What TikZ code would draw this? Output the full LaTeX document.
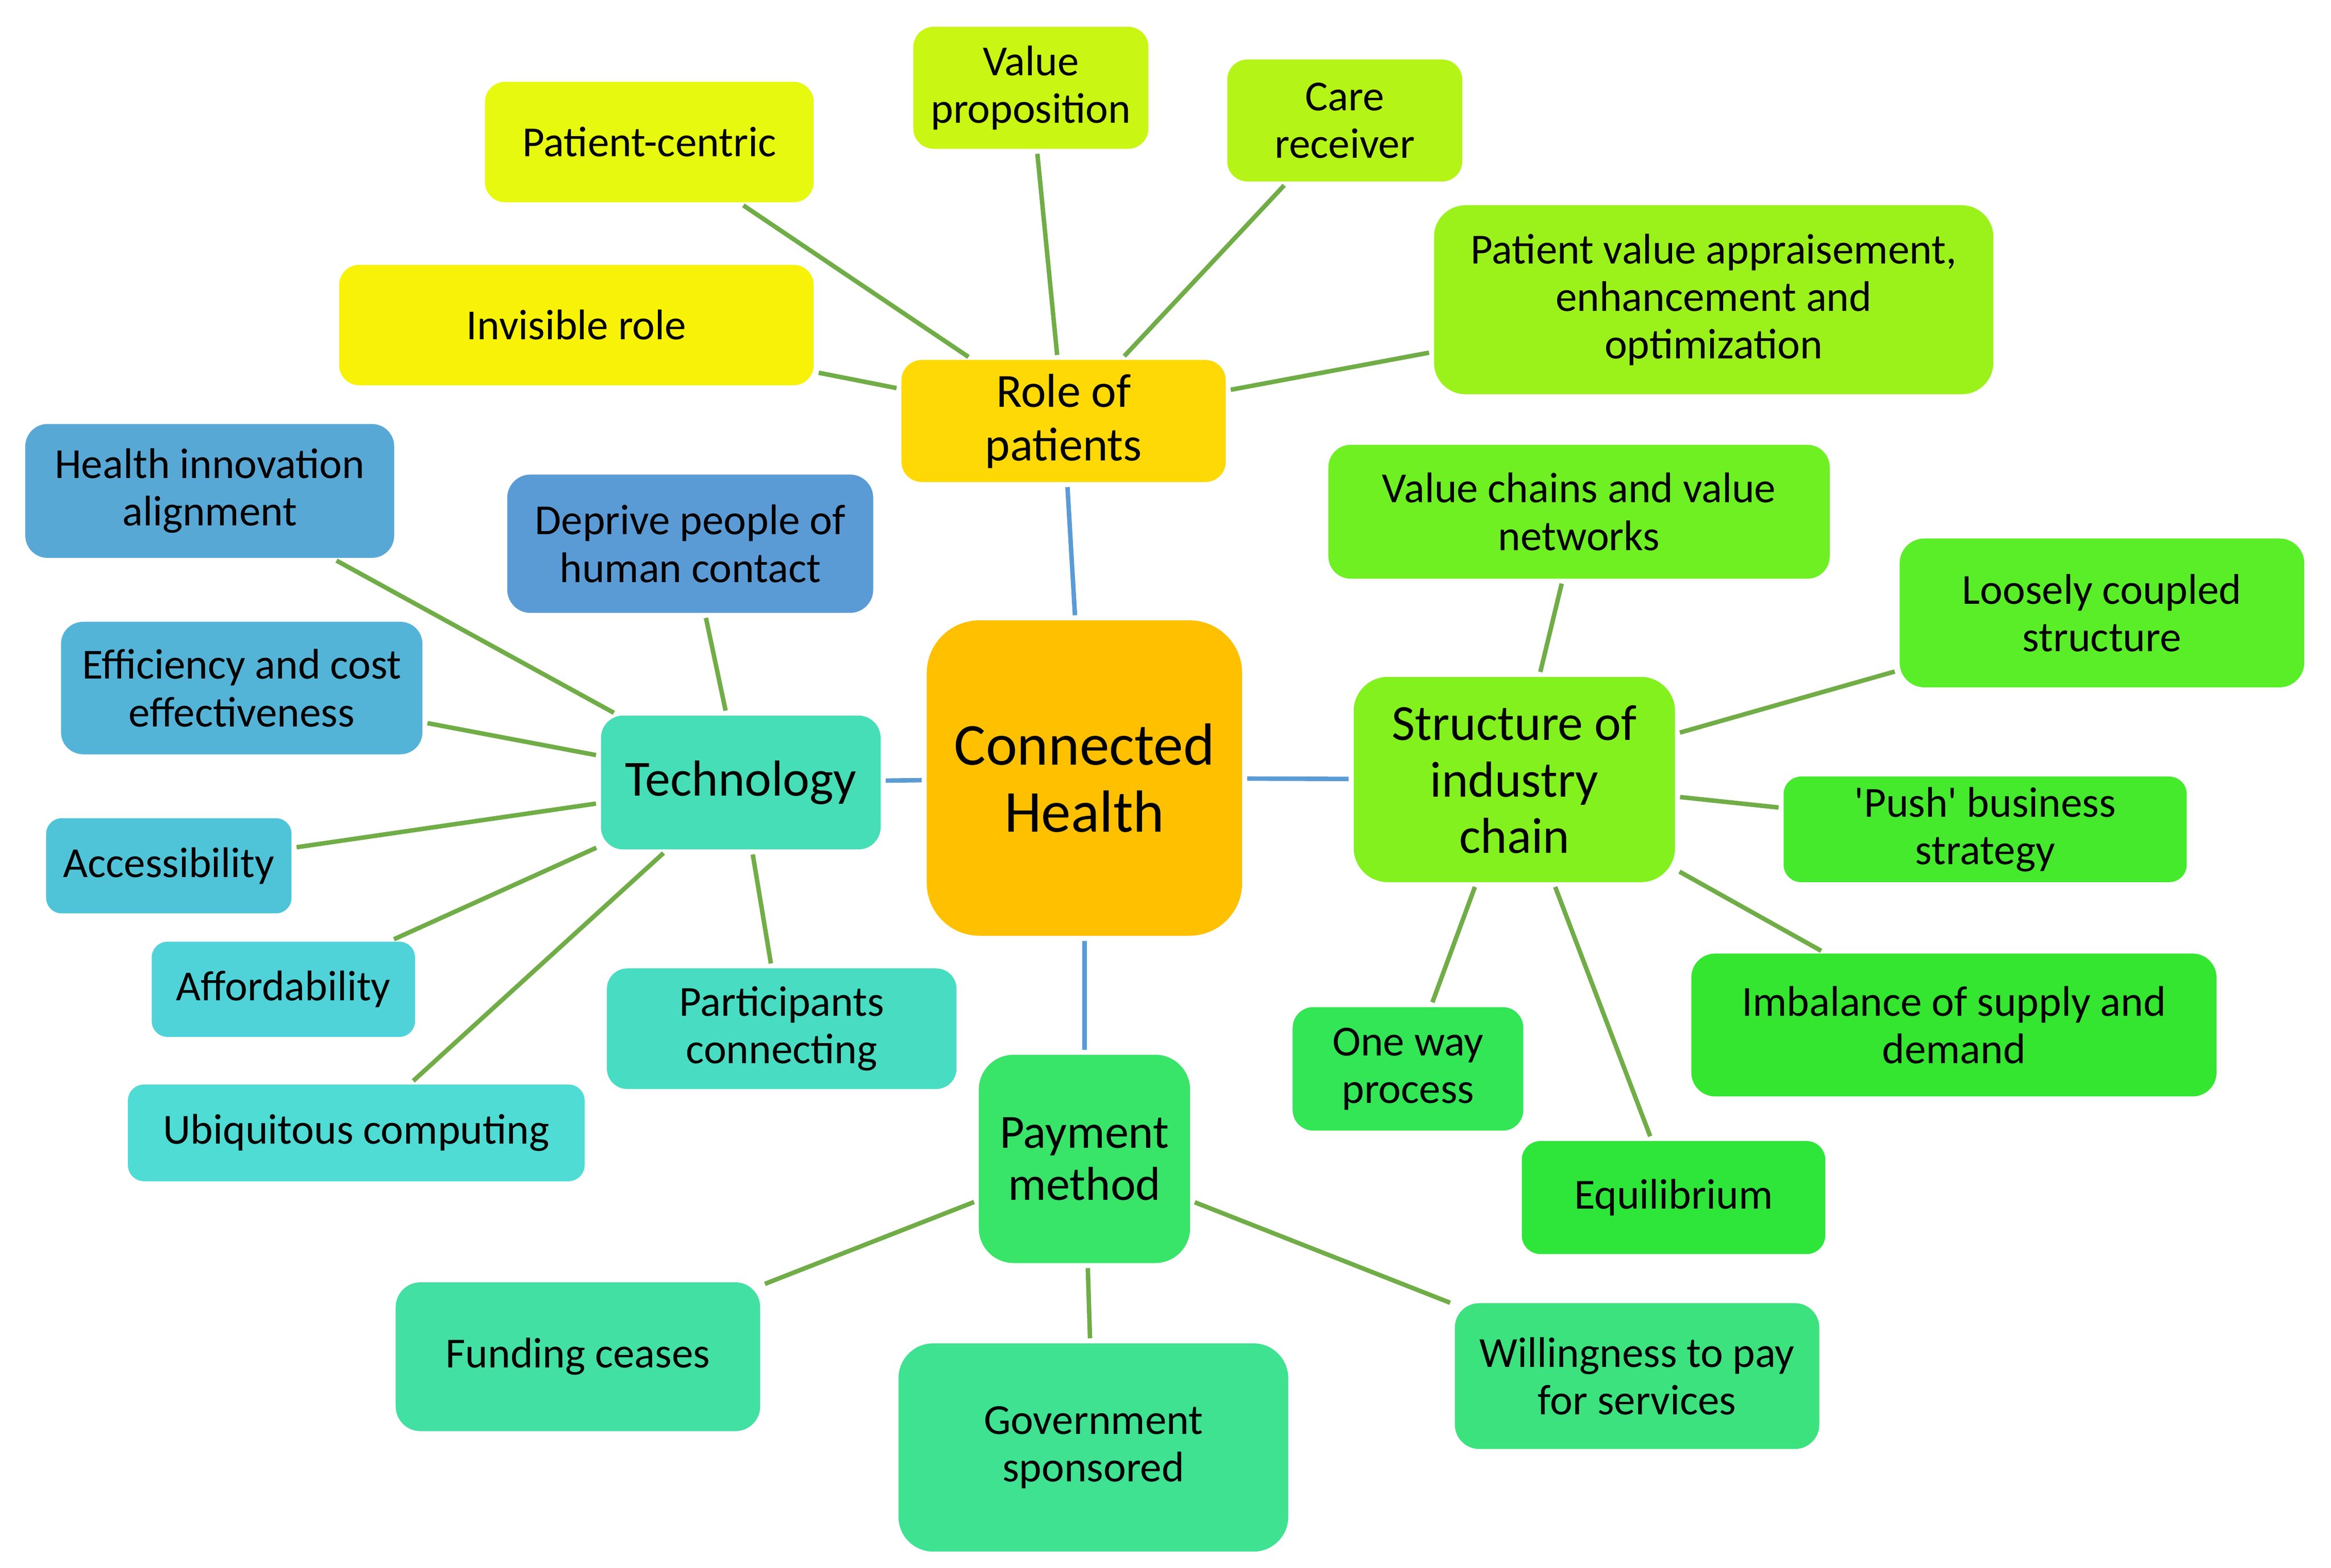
\documentclass[tikz,border=0pt]{standalone}
\usepackage{fontspec}
\setmainfont{Carlito}
\begin{document}
\begin{tikzpicture}[x=0.5pt,y=-0.5pt,
  bx/.style={draw=none, align=center, inner sep=1pt, font=\fontsize{14.4pt}{16pt}\selectfont, text=black},
  bxm/.style={bx, font=\fontsize{16pt}{18pt}\selectfont},
  bxl/.style={bx, font=\fontsize{17pt}{19pt}\selectfont},
  bxc/.style={bx, font=\fontsize{20pt}{22.5pt}\selectfont},
  gl/.style={draw=lineg, line width=1.5pt, shorten >=1.5pt, shorten <=1.5pt},
  bl/.style={draw=lineb, line width=1.5pt, shorten >=1.5pt, shorten <=1.5pt}]
\definecolor{lineg}{HTML}{70AD47}
\definecolor{lineb}{HTML}{5B9BD5}
\definecolor{cpc}{HTML}{E6F90F}
\definecolor{cir}{HTML}{F8F208}
\definecolor{cvp}{HTML}{C9F613}
\definecolor{ccr}{HTML}{B4F517}
\definecolor{cpv}{HTML}{9BF21B}
\definecolor{crp}{HTML}{FED906}
\definecolor{chi}{HTML}{58A8D6}
\definecolor{cdp}{HTML}{5B9BD5}
\definecolor{cef}{HTML}{54B4D8}
\definecolor{cte}{HTML}{46DEB6}
\definecolor{cch}{HTML}{FFC000}
\definecolor{cac}{HTML}{4FC4D9}
\definecolor{caf}{HTML}{4FD3D9}
\definecolor{cub}{HTML}{4EDCD4}
\definecolor{cpa}{HTML}{48DDC2}
\definecolor{cvc}{HTML}{6EF023}
\definecolor{clc}{HTML}{5AEE28}
\definecolor{cst}{HTML}{83F11E}
\definecolor{cpu}{HTML}{45EA2D}
\definecolor{cim}{HTML}{34E62F}
\definecolor{cow}{HTML}{32E656}
\definecolor{ceq}{HTML}{2EE63A}
\definecolor{cpm}{HTML}{38E568}
\definecolor{cfu}{HTML}{42E0A2}
\definecolor{cgo}{HTML}{3EE291}
\definecolor{cwi}{HTML}{3CE27D}

\useasboundingbox[fill=white] (0,0) rectangle (1567,1054);

% Centre
\node[bxc, fill=cch, minimum width=106pt, minimum height=106pt, rounded corners=17.7pt] (ch) at (729,523) {Connected\\Health};

% Main branches
\node[bxm, fill=crp, minimum width=109pt, minimum height=41pt, rounded corners=6.8pt] (rp) at (715,283) {Role of\\patients};
\node[bxl, fill=cte, minimum width=94pt, minimum height=45pt, rounded corners=7.5pt] (te) at (498,526) {Technology};
\node[bxl, fill=cst, minimum width=108pt, minimum height=69pt, rounded corners=11.5pt] (st) at (1018,524) {Structure of\\industry\\chain};
\node[bxm, fill=cpm, minimum width=71pt, minimum height=70pt, rounded corners=11.7pt, font=\fontsize{16pt}{17.5pt}\selectfont] (pm) at (729,779) {Payment\\method};

% Role of patients leaves
\node[bx, fill=cpc, minimum width=110.5pt, minimum height=40.5pt, rounded corners=6.8pt] (pc) at (436.5,95.5) {Patient-centric};
\node[bx, fill=cir, minimum width=159.5pt, minimum height=40.5pt, rounded corners=6.8pt] (ir) at (387.5,218.5) {Invisible role};
\node[bx, fill=cvp, minimum width=79pt, minimum height=41pt, rounded corners=6.8pt] (vp) at (693,59) {Value\\proposition};
\node[bx, fill=ccr, minimum width=79pt, minimum height=41pt, rounded corners=6.8pt] (cr) at (904,81) {Care\\receiver};
\node[bx, fill=cpv, minimum width=188pt, minimum height=63.5pt, rounded corners=10.6pt] (pv) at (1152,201.5) {Patient value appraisement,\\enhancement and\\optimization};

% Technology leaves
\node[bx, fill=chi, minimum width=124pt, minimum height=45pt, rounded corners=7.5pt] (hi) at (141,330) {Health innovation\\alignment};
\node[bx, fill=cdp, minimum width=123pt, minimum height=46.5pt, rounded corners=7.8pt] (dp) at (464,365.5) {Deprive people of\\human contact};
\node[bx, fill=cef, minimum width=121.5pt, minimum height=44.5pt, rounded corners=7.4pt] (ef) at (162.5,462.5) {Efficiency and cost\\effectiveness};
\node[bx, fill=cac, minimum width=82.5pt, minimum height=32pt, rounded corners=5.3pt] (ac) at (113.5,582) {Accessibility};
\node[bx, fill=caf, minimum width=88.5pt, minimum height=32pt, rounded corners=5.3pt] (af) at (190.5,665) {Affordability};
\node[bx, fill=cub, minimum width=153.5pt, minimum height=32.5pt, rounded corners=5.4pt] (ub) at (239.5,761.5) {Ubiquitous computing};
\node[bx, fill=cpa, minimum width=117.5pt, minimum height=40.5pt, rounded corners=6.8pt] (pa) at (525.5,691.5) {Participants\\connecting};

% Structure leaves
\node[bx, fill=cvc, minimum width=168.5pt, minimum height=45pt, rounded corners=7.5pt] (vc) at (1061.5,344) {Value chains and value\\networks};
\node[bx, fill=clc, minimum width=136pt, minimum height=50pt, rounded corners=8.3pt] (lc) at (1413,412) {Loosely coupled\\structure};
\node[bx, fill=cpu, minimum width=135.5pt, minimum height=35.5pt, rounded corners=5.9pt] (pu) at (1334.5,557.5) {\textquotesingle Push\textquotesingle{} business\\strategy};
\node[bx, fill=cim, minimum width=176.5pt, minimum height=48pt, rounded corners=8pt] (im) at (1313.5,689) {Imbalance of supply and\\demand};
\node[bx, fill=cow, minimum width=77.5pt, minimum height=41.5pt, rounded corners=6.9pt] (ow) at (946.5,718.5) {One way\\process};
\node[bx, fill=ceq, minimum width=102pt, minimum height=38pt, rounded corners=6.3pt] (eq) at (1125,805) {Equilibrium};

% Payment leaves
\node[bx, fill=cfu, minimum width=122.5pt, minimum height=50pt, rounded corners=8.3pt] (fu) at (388.5,912) {Funding ceases};
\node[bx, fill=cgo, minimum width=131pt, minimum height=70pt, rounded corners=11.7pt] (go) at (735,973) {Government\\sponsored};
\node[bx, fill=cwi, minimum width=122.5pt, minimum height=49pt, rounded corners=8.2pt] (wi) at (1100.5,925) {Willingness to pay\\for services};

% Connectors: centre
\draw[bl] (ch) -- (rp);
\draw[bl] (ch) -- (te);
\draw[bl] (ch) -- (st);
\draw[bl] (ch) -- (pm);

% Role of patients
\draw[gl] (rp) -- (pc);
\draw[gl] (rp) -- (ir);
\draw[gl] (rp) -- (vp);
\draw[gl] (rp) -- (cr);
\draw[gl] (rp) -- (pv);

% Technology
\draw[gl] (te) -- (hi);
\draw[gl] (te) -- (dp);
\draw[gl] (te) -- (ef);
\draw[gl] (te) -- (ac);
\draw[gl] (te) -- (af);
\draw[gl] (te) -- (ub);
\draw[gl] (te) -- (pa);

% Structure
\draw[gl] (st) -- (vc);
\draw[gl] (st) -- (lc);
\draw[gl] (st) -- (pu);
\draw[gl] (st) -- (im);
\draw[gl] (st) -- (ow);
\draw[gl] (st) -- (eq);

% Payment
\draw[gl] (pm) -- (fu);
\draw[gl] (pm) -- (go);
\draw[gl] (pm) -- (wi);
\end{tikzpicture}
\end{document}
